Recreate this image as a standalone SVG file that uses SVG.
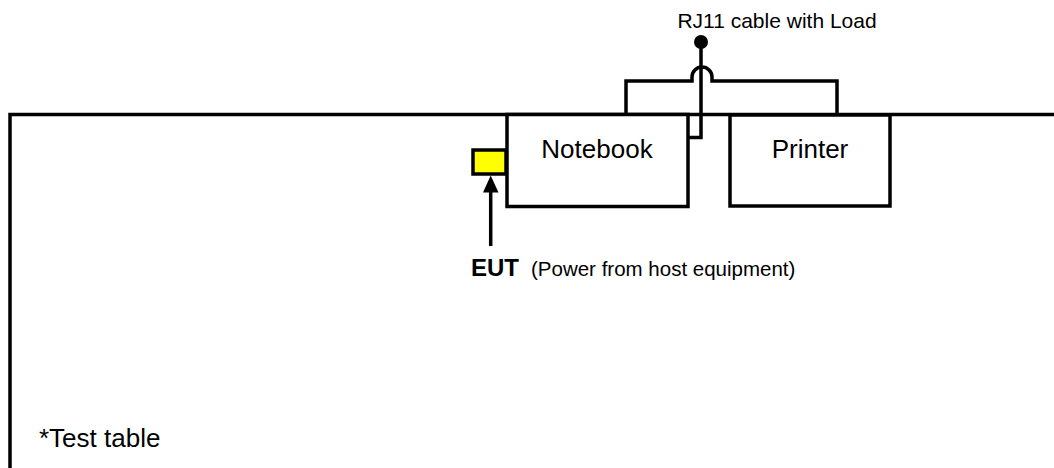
<svg xmlns="http://www.w3.org/2000/svg" width="1054" height="468" viewBox="0 0 1054 468">
  <defs>
    <style>
      .ln { fill: none; stroke: #000; stroke-width: 3.5; stroke-linejoin: miter; }
      .box { fill: #fff; stroke: #000; stroke-width: 3.5; }
      .t { font-family: "Liberation Sans", Arial, sans-serif; fill: #000; }
    </style>
    <marker id="ah" viewBox="0 0 10 10" refX="10" refY="5" markerWidth="4.5" markerHeight="4.5" orient="auto" markerUnits="strokeWidth">
      <path d="M0,0 L10,5 L0,10 Z" fill="#000"/>
    </marker>
  </defs>
  <rect width="1054" height="468" fill="#fff"/>

  <g id="test-table">
    <path class="ln" d="M10,468 V114.5 H1054"/>
    <text class="t" x="39" y="447" font-size="26">*Test table</text>
  </g>

  <g id="notebook">
    <rect class="box" x="507" y="114.5" width="181" height="92"/>
    <text class="t" x="597" y="158" font-size="26" text-anchor="middle">Notebook</text>
  </g>

  <g id="printer">
    <rect class="box" x="730" y="115" width="160" height="91"/>
    <text class="t" x="810" y="158" font-size="26" text-anchor="middle">Printer</text>
  </g>

  <g id="eut">
    <rect x="473" y="150" width="33" height="24" fill="#ffff00" stroke="#000" stroke-width="3.5"/>
    <text class="t" x="471" y="276"><tspan font-size="24" font-weight="bold">EUT</tspan><tspan x="531" font-size="20.5">(Power from host equipment)</tspan></text>
  </g>

  <g id="rj11-load">
    <circle cx="701" cy="42" r="7" fill="#000"/>
    <text class="t" x="777" y="28" font-size="21" text-anchor="middle">RJ11 cable with Load</text>
  </g>

  <g id="connectors">
    <path class="ln" d="M626,114.5 V81 H692 V77 A10,10 0 0 1 712,77 V81 H837 V114.5"/>
    <path class="ln" d="M701,42 V137.5 H688"/>
    <line class="ln" x1="490.7" y1="246" x2="490.7" y2="191"/>
    <polygon points="490.7,175.5 483,192.5 498.5,192.5" fill="#000"/>
  </g>
</svg>
